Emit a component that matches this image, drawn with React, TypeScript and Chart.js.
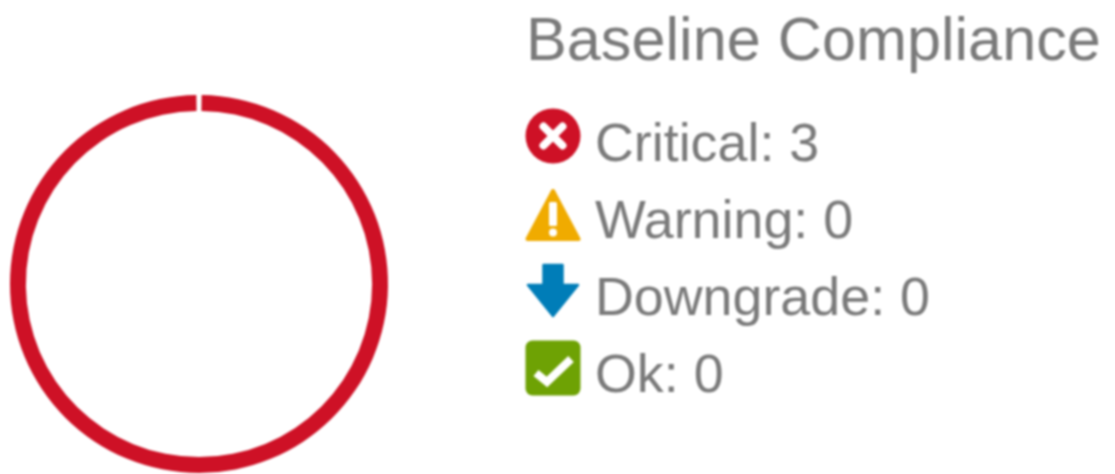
import React, { useEffect, useRef } from "react";
import { Chart, registerables } from "chart.js";

Chart.register(...registerables);

const title = "Baseline Compliance";
const categories = ["Critical", "Warning", "Downgrade", "Ok"];
const values = [3, 0, 0, 0];
const colors = ["#ce1126", "#f0ab00", "#007db8", "#6ea204"];

const FONT = '"Liberation Sans", Arial, sans-serif';
const GAP_DEG = 1.6;
const BLUR = "blur(0.8px)";
const iconCenters = [136, 214.5, 290.5, 367.5];
const textCenters = [142, 219, 296, 373];

function Icon({ name, color }: { name: string; color: string }) {
  const common = { width: 56, height: 56, viewBox: "0 0 56 56", style: { display: "block" } };
  if (name === "Critical") {
    return (
      <svg {...common}>
        <circle cx="28" cy="28" r="27.5" fill={color} />
        <path d="M18.5 18.5 L37.5 37.5 M37.5 18.5 L18.5 37.5" stroke="#fff" strokeWidth="8" strokeLinecap="round" />
      </svg>
    );
  }
  if (name === "Warning") {
    return (
      <svg {...common}>
        <path d="M28 4 L53.5 52 L2.5 52 Z" fill={color} stroke={color} strokeWidth="4" strokeLinejoin="round" />
        <rect x="24" y="15" width="8" height="24" rx="1.5" fill="#fff" />
        <circle cx="28" cy="45.5" r="4" fill="#fff" />
      </svg>
    );
  }
  if (name === "Downgrade") {
    return (
      <svg {...common}>
        <path d="M18.5 2 H37.5 V22 H53 L28 53 L3 22 H18.5 Z" fill={color} stroke={color} strokeWidth="2.5" strokeLinejoin="round" />
      </svg>
    );
  }
  return (
    <svg {...common}>
      <rect x="0.5" y="0.5" width="55" height="55" rx="7" fill={color} />
      <path d="M11 33 L22 42 L46 19" fill="none" stroke="#fff" strokeWidth="8" />
    </svg>
  );
}

export default function App() {
  const ref = useRef<HTMLCanvasElement | null>(null);

  useEffect(() => {
    if (!ref.current) return;
    const chart = new Chart(ref.current, {
      type: "doughnut",
      data: {
        labels: categories,
        datasets: [{ data: values, backgroundColor: colors, borderWidth: 0 }],
      },
      options: {
        responsive: false,
        animation: false,
        cutout: "91.6%",
        rotation: GAP_DEG / 2,
        circumference: 360 - GAP_DEG,
        layout: { padding: { left: 10, top: 95, right: 727, bottom: 1 } },
        plugins: { legend: { display: false }, tooltip: { enabled: false } },
      },
    });
    return () => chart.destroy();
  }, []);

  return (
    <div style={{ position: "absolute", left: 0, top: 0, width: 1115, height: 474, overflow: "hidden", background: "#fff", fontFamily: FONT, color: "#7a7a7a", filter: BLUR }}>
      <canvas ref={ref} width={1115} height={474} style={{ position: "absolute", left: 0, top: 0 }} />
      <div style={{ position: "absolute", left: 526, top: 4, fontSize: 61.2, lineHeight: "70px", whiteSpace: "nowrap" }}>{title}</div>
      {categories.map((c, i) => (
        <React.Fragment key={c}>
          <div style={{ position: "absolute", left: 525, top: iconCenters[i] - 28 }}>
            <Icon name={c} color={colors[i]} />
          </div>
          <div style={{ position: "absolute", left: 595, top: textCenters[i] - 32, fontSize: 53.8, lineHeight: "64px", whiteSpace: "nowrap" }}>
            {c}: {values[i]}
          </div>
        </React.Fragment>
      ))}
    </div>
  );
}
